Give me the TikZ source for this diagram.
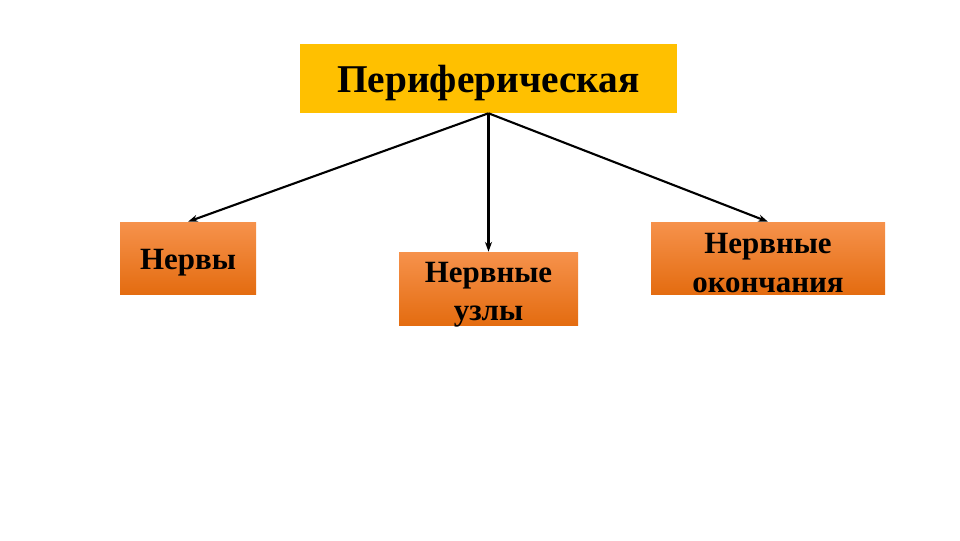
\documentclass[tikz,border=0pt]{standalone}
\usepackage{fontspec}
\setmainfont{Liberation Serif}
\usetikzlibrary{arrows.meta}
\definecolor{topgold}{RGB}{255,192,0}
\definecolor{orangetop}{RGB}{246,146,76}
\definecolor{orangebot}{RGB}{228,108,16}

\begin{document}
\begin{tikzpicture}[
  topbox/.style={fill=topgold, minimum width=9.425cm, minimum height=1.725cm,
    text depth=0pt, font=\fontsize{28}{32}\selectfont\bfseries},
  leafbox/.style={top color=orangetop, bottom color=orangebot, draw=none,
    minimum height=1.8cm, align=center, inner xsep=1pt, inner ysep=0pt,
    text depth=0pt, font=\fontsize{22}{27.5}\selectfont\bfseries},
  branch/.style={line width=1.5pt, -{Stealth[length=7pt,width=5pt]}}]
\useasboundingbox (0,0) rectangle (24,13.5);

\node[topbox] (perif) at (12.2125,11.5375) {Периферическая};

%%%%%%%%%%%%%%%%%%%%%%%%%%%%
\node[leafbox, minimum width=3.4cm, text height=16.9pt] (nervy) at (4.7,7.05) {Нервы};
\node[leafbox, minimum width=4.475cm, minimum height=1.825cm, text height=45.9pt]
  (uzly) at (12.2125,6.2875) {Нервные\\узлы};
\node[leafbox, minimum width=5.85cm, text height=49.2pt] (okonch) at (19.2,7.05)
  {Нервные\\окончания};

%%%%%%%%%%%%%%%%%%%%%%%%%%%%
\draw[branch] (perif.south) -- (nervy.north);
\draw[branch] (perif.south) -- (uzly.north);
\draw[branch] (perif.south) -- (okonch.north);
\end{tikzpicture}
\end{document}
